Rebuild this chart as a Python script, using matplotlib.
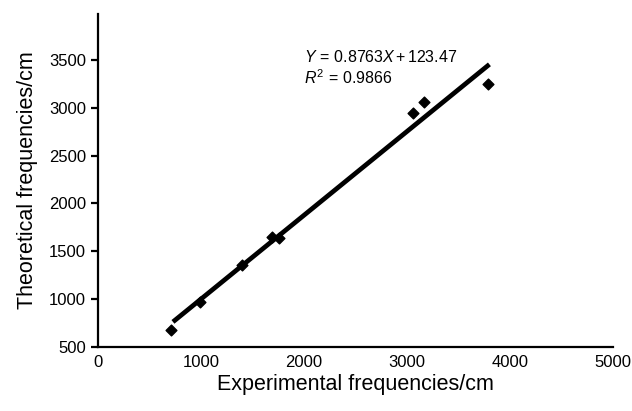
import matplotlib
matplotlib.use("Agg")
import matplotlib.pyplot as plt
import numpy as np

plt.rcParams['font.family'] = ['Liberation Sans', 'DejaVu Sans']
plt.rcParams['mathtext.fontset'] = 'custom'
plt.rcParams['mathtext.rm'] = 'Liberation Sans'
plt.rcParams['mathtext.it'] = 'Liberation Sans:italic'

exp_freq = [709, 990, 1398, 1689, 1757, 3058, 3165, 3786]
theo_freq = [678, 971, 1358, 1650, 1640, 2950, 3065, 3250]
slope, intercept = 0.8763, 123.47
line_x = [728, 3800]

fig = plt.figure(figsize=(6.32, 4.11), dpi=100)
ax = fig.add_axes([0.155, 0.156, 0.815, 0.81])

lx = np.array(line_x, dtype=float)
ax.plot(lx, slope * lx + intercept, color='black', lw=3.4, solid_capstyle='butt', zorder=2)
ax.scatter(exp_freq, theo_freq, marker='D', s=30, color='black', zorder=3)

ax.set_xlim(0, 5000)
ax.set_ylim(500, 3980)
ax.set_xticks([0, 1000, 2000, 3000, 4000, 5000])
ax.set_yticks([500, 1000, 1500, 2000, 2500, 3000, 3500])
for s in ['top', 'right']:
    ax.spines[s].set_visible(False)
for s in ['left', 'bottom']:
    ax.spines[s].set_linewidth(1.6)
ax.tick_params(axis='both', labelsize=12, width=1.6, length=5, direction='out')
ax.tick_params(axis='x', length=0, pad=6)
ax.set_xlabel('Experimental frequencies/cm', fontsize=15.5, labelpad=3)
ax.set_ylabel('Theoretical frequencies/cm', fontsize=15.5, labelpad=8)

ax.text(0.40, 0.855, r'$\mathit{Y}\,\mathrm{=\,0.8763}\mathit{X}\,\mathrm{+\,123.47}$',
        transform=ax.transAxes, fontsize=11.5)
ax.text(0.40, 0.79, r'$\mathit{R}^{2}\,\mathrm{=\,0.9866}$', transform=ax.transAxes, fontsize=11.5)

fig.savefig('out.png', dpi=100)
